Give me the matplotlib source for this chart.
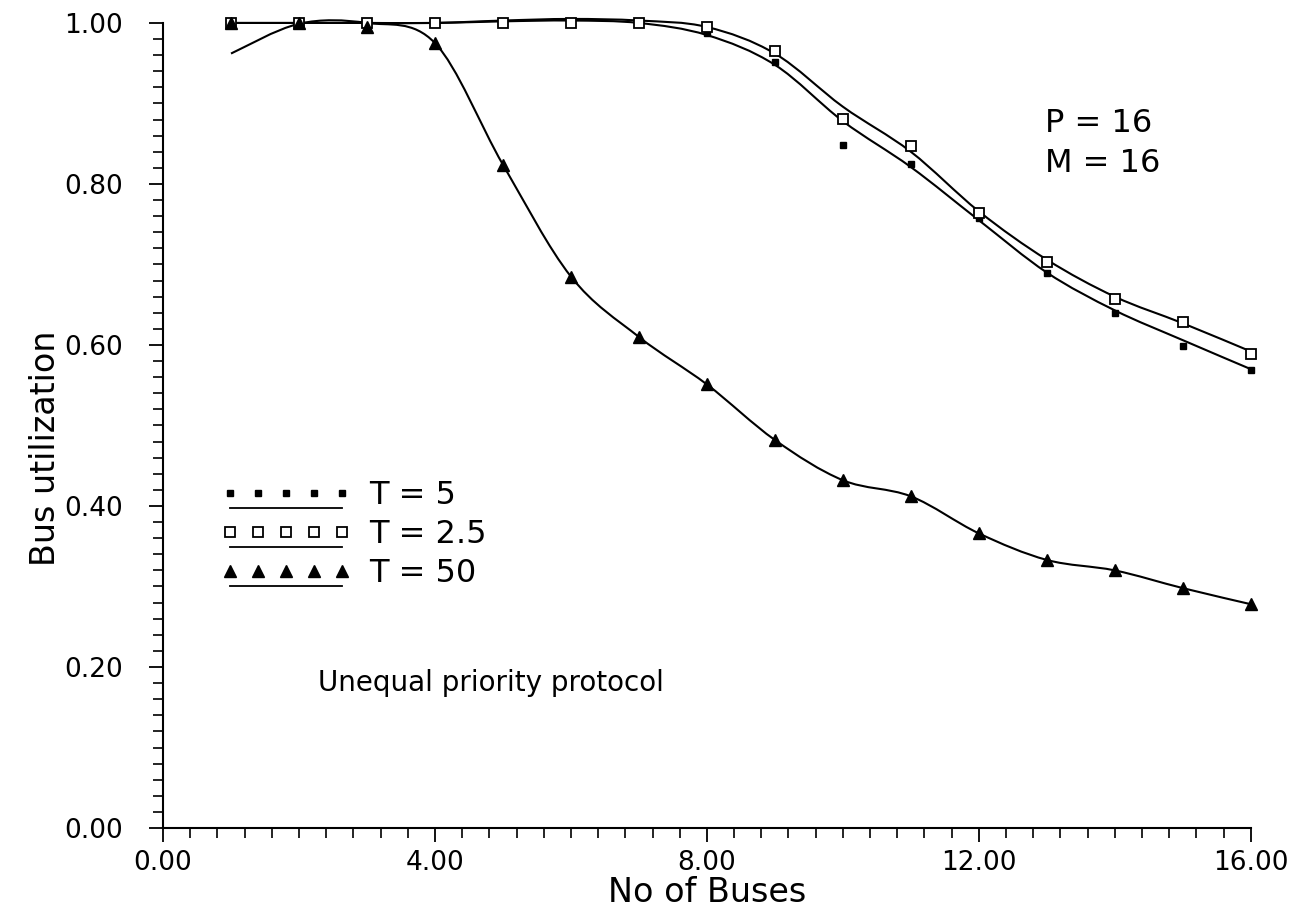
import numpy as np
import matplotlib
matplotlib.use("Agg")
import matplotlib.pyplot as plt
from matplotlib.path import Path
from matplotlib.patches import PathPatch
from matplotlib.lines import Line2D
from matplotlib.legend_handler import HandlerBase
from matplotlib.ticker import MultipleLocator, FormatStrFormatter

# ── Data ─────────────────────────────────────────────────────────
buses = [1, 2, 3, 4, 5, 6, 7, 8, 9, 10, 11, 12, 13, 14, 15, 16]

# measured points
util_t5  = [1.0, 1.0, 1.0, 1.0, 1.0, 1.0, 1.0, 0.988, 0.952, 0.848, 0.825, 0.758, 0.689, 0.640, 0.599, 0.569]
util_t25 = [1.0, 1.0, 1.0, 1.0, 1.0, 1.0, 1.0, 0.995, 0.965, 0.881, 0.847, 0.764, 0.703, 0.657, 0.629, 0.589]
util_t50 = [1.0, 1.0, 0.995, 0.975, 0.824, 0.685, 0.610, 0.551, 0.482, 0.432, 0.412, 0.366, 0.333, 0.320, 0.298, 0.278]

# fitted curves as drawn in the figure
fit_t5  = [1.0, 1.0, 1.0, 1.0, 1.002, 1.003, 1.0, 0.985, 0.948, 0.878, 0.821, 0.755, 0.690, 0.643, 0.606, 0.570]
fit_t25 = [1.0, 1.0, 1.0, 1.0, 1.003, 1.005, 1.003, 0.995, 0.962, 0.896, 0.840, 0.766, 0.706, 0.660, 0.627, 0.592]
fit_t50 = [0.962, 0.999, 1.0, 0.975, 0.824, 0.685, 0.610, 0.551, 0.482, 0.432, 0.412, 0.366, 0.333, 0.320, 0.298, 0.278]

labels = ["T = 5", "T = 2.5", "T = 50"]

plt.rcParams.update({"font.family": "DejaVu Sans"})


def smooth_path(xs, ys):
    # Catmull-Rom through the points, handed to matplotlib as cubic Beziers
    pts = np.column_stack([xs, ys]).astype(float)
    ext = np.vstack([pts[0], pts, pts[-1]])
    verts, codes = [pts[0]], [Path.MOVETO]
    for i in range(len(pts) - 1):
        p0, p1, p2, p3 = ext[i], ext[i + 1], ext[i + 2], ext[i + 3]
        verts += [p1 + (p2 - p0) / 6, p2 - (p3 - p1) / 6, p2]
        codes += [Path.CURVE4] * 3
    return Path(verts, codes)


class RowHandler(HandlerBase):
    # five markers in a row with a rule underneath
    def create_artists(self, legend, orig_handle, xdescent, ydescent,
                       width, height, fontsize, trans):
        xs = np.linspace(0, width, 5) - xdescent
        marks = Line2D(xs, np.full(5, height * 0.5 - ydescent))
        marks.update_from(orig_handle)
        marks.set_linestyle("none")
        under = Line2D([-xdescent, width - xdescent],
                       [-ydescent - 0.15 * height] * 2, color="black", lw=1.3)
        marks.set_transform(trans)
        under.set_transform(trans)
        return [marks, under]


fig = plt.figure(figsize=(12.98, 9.11), dpi=100)
ax = fig.add_axes([0.1256, 0.0911, 0.838, 0.8837])

styles = [
    (util_t5,  fit_t5,  dict(marker="s", ms=4.5, mfc="black", mec="black")),
    (util_t25, fit_t25, dict(marker="s", ms=6.5, mfc="white", mec="black", mew=1.3)),
    (util_t50, fit_t50, dict(marker="^", ms=8, mfc="black", mec="black")),
]
handles = []
for pts, fit, st in styles:
    ax.add_patch(PathPatch(smooth_path(buses, fit), fill=False, ec="black",
                           lw=1.5, clip_on=False))
    ax.plot(buses, pts, linestyle="none", clip_on=False, zorder=3, **st)
    handles.append(Line2D([], [], linestyle="none", color="black", **st))

ax.set_xlim(0, 16)
ax.set_ylim(0, 1.0)
ax.xaxis.set_major_locator(MultipleLocator(4))
ax.xaxis.set_minor_locator(MultipleLocator(0.4))
ax.yaxis.set_major_locator(MultipleLocator(0.2))
ax.yaxis.set_minor_locator(MultipleLocator(0.02))
ax.xaxis.set_major_formatter(FormatStrFormatter("%.2f"))
ax.yaxis.set_major_formatter(FormatStrFormatter("%.2f"))
ax.tick_params(which="major", direction="out", length=10, width=1.3, labelsize=19)
ax.tick_params(which="minor", direction="out", length=7, width=1.2)
ax.tick_params(axis="y", which="major", pad=19)
ax.tick_params(axis="x", which="major", pad=6)
ax.spines["top"].set_visible(False)
ax.spines["right"].set_visible(False)
ax.spines["left"].set_linewidth(1.5)
ax.spines["bottom"].set_linewidth(1.5)

ax.set_xlabel("No of Buses", fontsize=24, labelpad=0)
ax.set_ylabel("Bus utilization", fontsize=24)
ax.yaxis.set_label_coords(-0.093, 0.472)

ax.text(0.811, 0.875, "P = 16", transform=ax.transAxes, fontsize=23, va="center")
ax.text(0.811, 0.825, "M = 16", transform=ax.transAxes, fontsize=23, va="center")
ax.text(0.1425, 0.180, "Unequal priority protocol", transform=ax.transAxes,
        fontsize=20, va="center")

ax.legend(handles, labels, handler_map={Line2D: RowHandler()}, loc="upper left",
          bbox_to_anchor=(0.062, 0.432), frameon=False, fontsize=23,
          handlelength=3.5, handletextpad=0.85, labelspacing=0.25,
          borderpad=0, borderaxespad=0)

plt.savefig("out.png", dpi=100)
plt.close()
print("Saved: out.png")
